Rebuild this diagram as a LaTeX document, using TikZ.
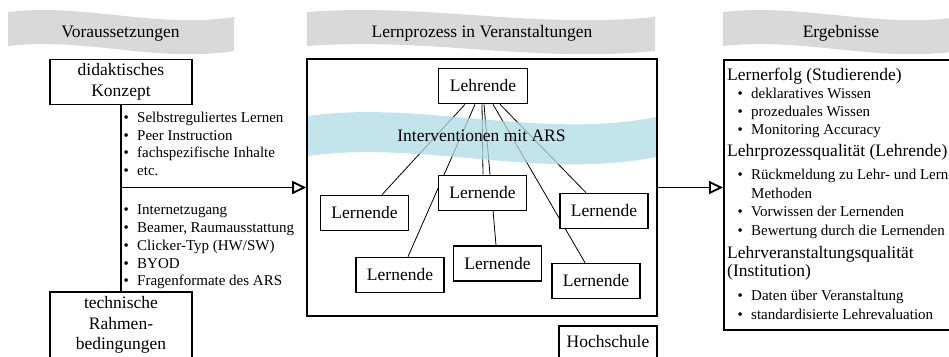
\documentclass[tikz,border=0pt]{standalone}
\usepackage{fontspec}
\setmainfont{Liberation Serif}
\usetikzlibrary{arrows.meta}
\definecolor{bannergray}{RGB}{217,217,217}
\definecolor{wavecol}{RGB}{176,219,230}
\pgfdeclarelayer{background}
\pgfsetlayers{background,main}
\newcommand\drawtape[2]{%
  \fill[bannergray] (#1,12) .. controls ({#1+0.35*#2},3) and ({#1+0.65*#2},29) .. ({#1+#2},17)
    -- ({#1+#2},51) .. controls ({#1+0.65*#2},63) and ({#1+0.35*#2},37) .. (#1,46) -- cycle;}
\tikzset{
  bigfont/.style={font=\fontsize{17.5}{20.5}\selectfont},
  lbox/.style={draw, line width=1.6pt, fill=white, minimum width=88pt, minimum height=35pt,
    inner sep=0pt, bigfont},
  listtxt/.style={font=\fontsize{15}{18}\selectfont, inner sep=0pt, anchor=base west},
  headtxt/.style={bigfont, inner sep=0pt, anchor=base west},
  bannertxt/.style={bigfont, inner sep=0pt, anchor=base},
  conn/.style={line width=0.8pt},
  heavy/.style={line width=1.8pt},
  openarrow/.style={line width=1.8pt, -{Triangle[open, length=14pt, width=13pt, line width=1.8pt]}}
}
\newcommand\bul{\makebox[13.6pt][l]{\textbullet}}
\begin{document}
\begin{tikzpicture}[x=1pt,y=-1pt]
\useasboundingbox (0,0) rectangle (949,356);
\clip (0,0) rectangle (949,356);

% frame and nodes
\node[draw, line width=1.6pt, minimum width=350pt, minimum height=257pt, inner sep=0pt] (frame) at (482,187.5) {};
\node[lbox, minimum width=142pt, minimum height=45pt, align=center] (didak) at (121,82) {didaktisches\\Konzept};
\node[lbox, anchor=north, minimum width=142pt, align=center, inner ysep=5pt, text depth=40pt] (tech) at (121,291) {technische\\Rahmen-\\bedingungen};
\node[lbox, anchor=north, minimum width=98pt, inner ysep=10pt, text depth=20pt] (hs) at (608,325) {Hochschule};
\node[draw, line width=1.6pt, anchor=north west, minimum width=250pt, minimum height=270pt, inner sep=0pt] (res) at (723,59) {};

\node[lbox, minimum width=89pt] (leh) at (483,86) {Lehrende};
\node[lbox] (l1) at (364.5,213) {Lernende};
\node[lbox] (l2) at (482.5,193) {Lernende};
\node[lbox] (l3) at (604,211) {Lernende};
\node[lbox] (l4) at (400,275) {Lernende};
\node[lbox] (l5) at (497.5,263.5) {Lernende};
\node[lbox] (l6) at (596,281) {Lernende};

\begin{pgfonlayer}{background}
  \drawtape{8}{226}
  \drawtape{307}{348}
  \drawtape{723}{236}
  \draw[conn] ([xshift=-18pt]leh.south) -- ([xshift=17.5pt]l1.north);
  \draw[conn] ([xshift=-8pt]leh.south) -- ([xshift=8pt]l4.north);
  \draw[conn] ([xshift=-1pt]leh.south) -- ([xshift=0.5pt]l2.north);
  \draw[conn] ([xshift=1pt]leh.south) -- ([xshift=-1.5pt]l5.north);
  \draw[conn] ([xshift=10pt]leh.south) -- ([xshift=-11pt]l6.north);
  \draw[conn] ([xshift=17pt]leh.south) -- ([xshift=-18pt]l3.north);
  \fill[wavecol, opacity=0.75] (307.8,116) .. controls (420,100) and (540,140) .. (656.2,117)
    -- (656.2,157) .. controls (540,180) and (420,140) .. (307.8,156) -- cycle;
\end{pgfonlayer}

\node[bigfont, inner sep=0pt, anchor=base] (iv) at (481.5,141) {Interventionen mit ARS};

% banner texts
\node[bannertxt] (t1) at (120.5,37) {Voraussetzungen};
\node[bannertxt] (t2) at (482,37) {Lernprozess in Veranstaltungen};
\node[bannertxt] (t3) at (841,37) {Ergebnisse};

% left connectors
\draw[heavy] (didak.south) -- (tech.north);
\draw[openarrow] (didak.south |- frame.west) -- (frame.west);
\draw[openarrow] (frame.east) -- (frame.east -| res.west);

% left lists
\foreach \t [count=\i] in {Selbstreguliertes Lernen, Peer Instruction, fachspezifische Inhalte, etc.}
  \node[listtxt] (a\i) at (123.4, {104.6+17.7*\i}) {\bul\t};
\foreach \t [count=\i] in {Internetzugang, {Beamer, Raumausstattung}, Clicker-Typ (HW/SW), BYOD, Fragenformate des ARS}
  \node[listtxt] (b\i) at (123.4, {196.4+17.9*\i}) {\bul\t};

% results text
\node[headtxt] (r1) at (727,80) {Lernerfolg (Studierende)};
\node[listtxt] (r2) at (737.4,98.3) {\bul deklaratives Wissen};
\node[listtxt] (r3) at (737.4,116.7) {\bul prozeduales Wissen};
\node[listtxt] (r4) at (737.4,134.3) {\bul Monitoring Accuracy};
\node[headtxt] (r5) at (727,156) {Lehrprozessqualität (Lehrende)};
\node[listtxt] (r6) at (737.4,179.3) {\bul Rückmeldung zu Lehr- und Lern-};
\node[listtxt] (r7) at (751,198.3) {Methoden};
\node[listtxt] (r8) at (737.4,216.7) {\bul Vorwissen der Lernenden};
\node[listtxt] (r9) at (737.4,235) {\bul Bewertung durch die Lernenden};
\node[headtxt] (r10) at (727,258.3) {Lehrveranstaltungsqualität};
\node[headtxt] (r11) at (727,276) {(Institution)};
\node[listtxt] (r12) at (737.4,300.7) {\bul Daten über Veranstaltung};
\node[listtxt] (r13) at (737.4,319) {\bul standardisierte Lehrevaluation};
\end{tikzpicture}
\end{document}
